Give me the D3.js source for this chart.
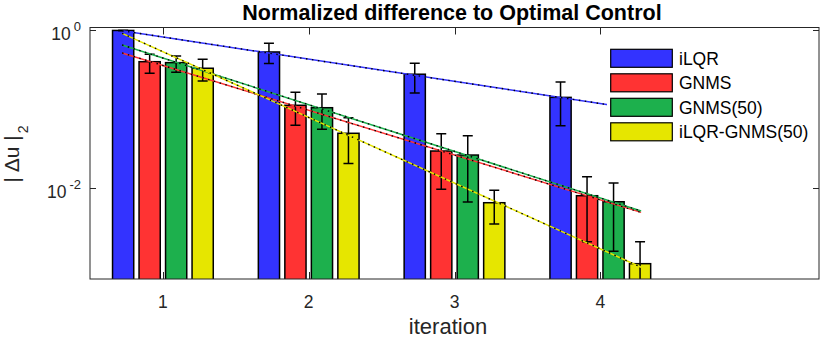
<!DOCTYPE html>
<html><head><meta charset="utf-8">
<script src="https://cdn.jsdelivr.net/npm/d3@7"></script>
<style>body{margin:0;background:#fff} text{font-family:"Liberation Sans",Arial,Helvetica,sans-serif}</style>
</head><body><svg id="c" width="822" height="340"></svg>
<script>
// ---- data ----
const iterations = [1, 2, 3, 4];
const seriesNames = ["iLQR", "GNMS", "GNMS(50)", "iLQR-GNMS(50)"];
const seriesColors = ["#3333ff", "#ff3333", "#1db04d", "#e6e600"];
const valILQR      = [1.0, 0.534, 0.279, 0.142];
const errLowILQR   = [1.0, 0.380, 0.161, 0.062];
const errHighILQR  = [1.0, 0.688, 0.384, 0.2225];
const valGNMS      = [0.402, 0.1127, 0.0297, 0.00806];
const errLowGNMS   = [0.287, 0.0629, 0.00971, 0.0021];
const errHighGNMS  = [0.499, 0.165, 0.0492, 0.01403];
const valGNMS50    = [0.391, 0.105, 0.0264, 0.00676];
const errLowGNMS50 = [0.295, 0.056, 0.0067, 0.0016];
const errHighGNMS50= [0.475, 0.157, 0.0464, 0.01167];
const valHybrid    = [0.332, 0.0498, 0.00657, 0.00111];
const errLowHybrid = [0.229, 0.0207, 0.00353, 0.0004];
const errHighHybrid= [0.431, 0.0785, 0.00943, 0.0021];
const fitX         = [0.72, 4.28];
const fitILQR      = [0.99, 0.099];
const fitGNMS      = [0.519, 0.00496];
const fitGNMS50    = [0.655, 0.00515];
const fitHybrid    = [0.92, 0.001];
const xTicks = [1, 2, 3, 4];
const yTicks = [1, 0.01];
const yTickExp = ["0", "-2"];
const titleText = "Normalized difference to Optimal Control";
const xLabelText = "iteration";

const values = [valILQR, valGNMS, valGNMS50, valHybrid];
const lows = [errLowILQR, errLowGNMS, errLowGNMS50, errLowHybrid];
const highs = [errHighILQR, errHighGNMS, errHighGNMS50, errHighHybrid];
const fits = [fitILQR, fitGNMS, fitGNMS50, fitHybrid];

// ---- layout ----
const L = 90, R = 819, T = 27.5, B = 279;
const svg = d3.select("#c");
const x = d3.scaleLinear([0.5, 5.5], [L, R]);
const y = d3.scaleLog([7.1e-4, 1.09], [B, T]);
const off = d3.scaleBand(seriesNames, [-0.3636, 0.3636]).paddingInner(0.2).paddingOuter(0.1);
const axisColor = "#262626";

svg.append("defs").append("clipPath").attr("id", "clip")
  .append("rect").attr("x", L).attr("y", T).attr("width", R - L).attr("height", B - T);

const plot = svg.append("g").attr("clip-path", "url(#clip)");

// bars
seriesNames.forEach((name, s) => {
  plot.append("g").selectAll("rect").data(iterations).join("rect")
    .attr("x", (d) => x(d + off(name)))
    .attr("width", (d) => x(d + off(name) + off.bandwidth()) - x(d + off(name)))
    .attr("y", (d, i) => y(values[s][i]))
    .attr("height", (d, i) => y.range()[0] + 2 - y(values[s][i]))
    .attr("fill", seriesColors[s])
    .attr("stroke", "#000").attr("stroke-width", 1.5);
});

// error bars
seriesNames.forEach((name, s) => {
  const g = plot.append("g").attr("stroke", "#000").attr("stroke-width", 1.5).attr("fill", "none");
  iterations.forEach((d, i) => {
    const cx = x(d + off(name) + off.bandwidth() / 2);
    const y0 = y(lows[s][i]), y1 = y(highs[s][i]);
    g.append("line").attr("x1", cx).attr("x2", cx).attr("y1", y0).attr("y2", y1);
    g.append("line").attr("x1", cx - 5).attr("x2", cx + 5).attr("y1", y0).attr("y2", y0);
    g.append("line").attr("x1", cx - 5).attr("x2", cx + 5).attr("y1", y1).attr("y2", y1);
  });
});

// fit lines
const line = d3.line().x((d) => x(d[0])).y((d) => y(d[1]));
fits.forEach((f, s) => {
  const pts = fitX.map((xx, i) => [xx, f[i]]);
  plot.append("path").attr("d", line(pts)).attr("fill", "none")
    .attr("stroke", seriesColors[s]).attr("stroke-width", 1.5);
  plot.append("path").attr("d", line(pts)).attr("fill", "none")
    .attr("stroke", "#000").attr("stroke-width", 1.4).attr("stroke-dasharray", "1.5,4.5");
});

// legend
const lg = svg.append("g");
lg.append("rect").attr("x", 607).attr("y", 40).attr("width", 210).attr("height", 108).attr("fill", "#fff");
seriesNames.forEach((name, s) => {
  const yy = 49.3 + s * 24.5;
  lg.append("rect").attr("x", 610.7).attr("y", yy).attr("width", 61.6).attr("height", 18)
    .attr("fill", seriesColors[s]).attr("stroke", "#000").attr("stroke-width", 1.2);
  lg.append("text").attr("x", 679).attr("y", yy + 9).attr("dy", "0.36em")
    .attr("font-size", 17.5).attr("fill", "#000").text(name);
});

// axes box and ticks
const ax = svg.append("g").attr("stroke", axisColor).attr("stroke-width", 1).attr("fill", "none");
ax.append("rect").attr("x", L).attr("y", T).attr("width", R - L).attr("height", B - T);
xTicks.forEach((t) => {
  const px = Math.round(x(t)) + 0.5;
  ax.append("line").attr("x1", px).attr("x2", px).attr("y1", B).attr("y2", B - 7);
  ax.append("line").attr("x1", px).attr("x2", px).attr("y1", T).attr("y2", T + 7);
});
yTicks.forEach((t) => {
  const py = Math.round(y(t)) + 0.5;
  ax.append("line").attr("x1", L).attr("x2", L + 6).attr("y1", py).attr("y2", py);
  ax.append("line").attr("x1", R).attr("x2", R - 6).attr("y1", py).attr("y2", py);
});

// tick labels
svg.append("g").selectAll("text").data(xTicks).join("text")
  .attr("x", (d) => x(d)).attr("y", 308).attr("text-anchor", "middle")
  .attr("font-size", 17.5).attr("fill", axisColor).text((d) => d);
yTicks.forEach((t, i) => {
  const tx = svg.append("text").attr("x", 81).attr("y", y(t) + 9.5)
    .attr("text-anchor", "end").attr("font-size", 17.5).attr("fill", axisColor);
  tx.append("tspan").text("10");
  tx.append("tspan").attr("dx", 3).attr("dy", -8.5).attr("font-size", 13).text(yTickExp[i]);
});

// labels
svg.append("text").attr("x", 452).attr("y", 20).attr("text-anchor", "middle")
  .attr("font-size", 21.5).attr("font-weight", "bold").attr("fill", "#000").text(titleText);
svg.append("text").attr("x", 448).attr("y", 334).attr("text-anchor", "middle")
  .attr("font-size", 22).attr("fill", axisColor).text(xLabelText);
const yl = svg.append("text").attr("transform", "translate(18.5,154) rotate(-90)")
  .attr("text-anchor", "middle").attr("font-size", 21).attr("fill", axisColor);
yl.append("tspan").text("| Δu |");
yl.append("tspan").attr("dy", 9).attr("dx", 2).attr("font-size", 14).text("2");
</script></body></html>
